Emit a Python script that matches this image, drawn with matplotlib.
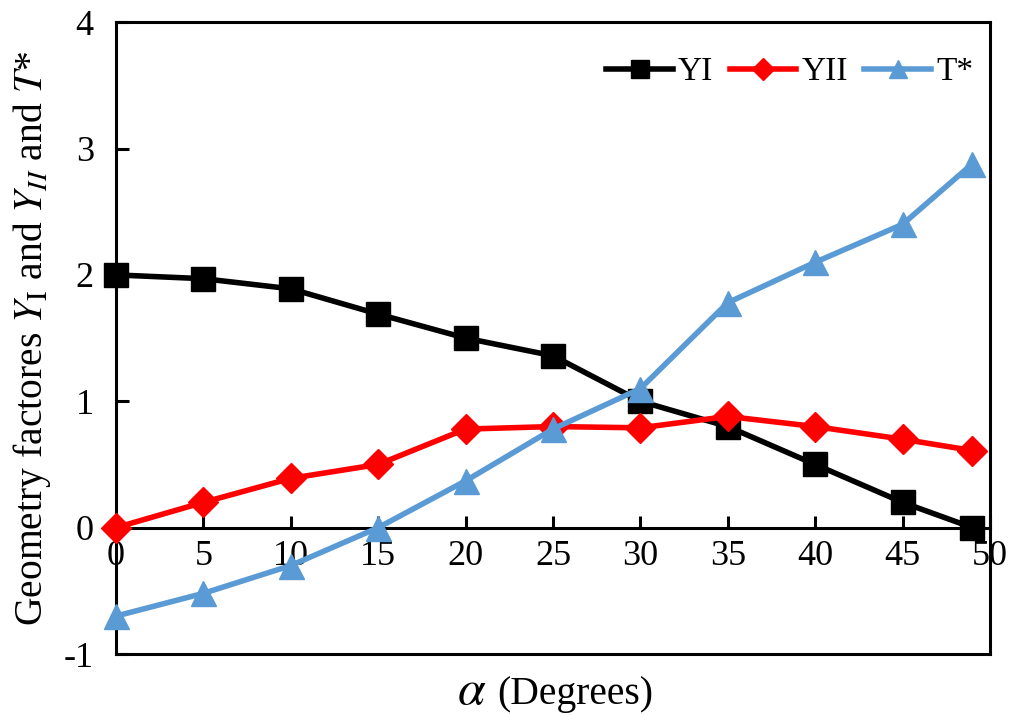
import matplotlib.pyplot as plt

plt.rcParams['font.family'] = 'Liberation Serif'
plt.rcParams['mathtext.fontset'] = 'stix'
plt.rcParams['axes.unicode_minus'] = False

# data
alpha = [0, 5, 10, 15, 20, 25, 30, 35, 40, 45, 49]
y1 = [2.0, 1.97, 1.89, 1.69, 1.5, 1.36, 1.0, 0.8, 0.5, 0.2, 0.0]
y2 = [0.0, 0.2, 0.39, 0.5, 0.78, 0.8, 0.79, 0.88, 0.8, 0.7, 0.61]
tstar = [-0.7, -0.52, -0.3, 0.0, 0.37, 0.78, 1.1, 1.78, 2.1, 2.4, 2.88]

fig = plt.figure(figsize=(10.12, 7.15), dpi=100)
ax = fig.add_axes([0.1146, 0.0853, 0.8636, 0.8837])

ax.plot(alpha, y1, color='black', lw=4, marker='s', ms=17, label='YI', clip_on=False, zorder=3)
ax.plot(alpha, y2, color='#FF0000', lw=4, marker='D', ms=15, label='YII', clip_on=False, zorder=3)
ax.plot(alpha, tstar, color='#5B9BD5', lw=4, marker='^', ms=18, label='T*', clip_on=False, zorder=3)

ax.set_xlim(0, 50)
ax.set_ylim(-1, 4)
ax.set_xticks(range(0, 51, 5))
ax.set_yticks(range(-1, 5))

# x axis runs along y = 0, box kept around the whole area
ax.spines['bottom'].set_position(('data', 0))
ax.plot([0, 1], [0, 0], transform=ax.transAxes, color='black', lw=2.2, clip_on=False)
for s in ax.spines.values():
    s.set_linewidth(2.2)

ax.tick_params(axis='both', direction='in', length=9, width=2.2, labelsize=26)
ax.tick_params(axis='x', pad=9)
ax.tick_params(axis='y', pad=16)

ax.set_ylabel('Geometry factores $Y_{\\mathrm{I}}$ and $Y_{II}$ and $T$*', fontsize=28.5, labelpad=8)
fig.text(0.4664, 0.0154, '$\\alpha$', fontsize=36, ha='center', va='baseline')
fig.text(0.4911, 0.0154, '(Degrees)', fontsize=28.5, ha='left', va='baseline')

ax.legend(loc='center right', bbox_to_anchor=(1.0, 0.921), ncol=3, frameon=False,
          fontsize=24, handlelength=2.0, handletextpad=0.15, columnspacing=0.5,
          borderpad=0, markerscale=0.75)

plt.savefig('out.png', dpi=100)
